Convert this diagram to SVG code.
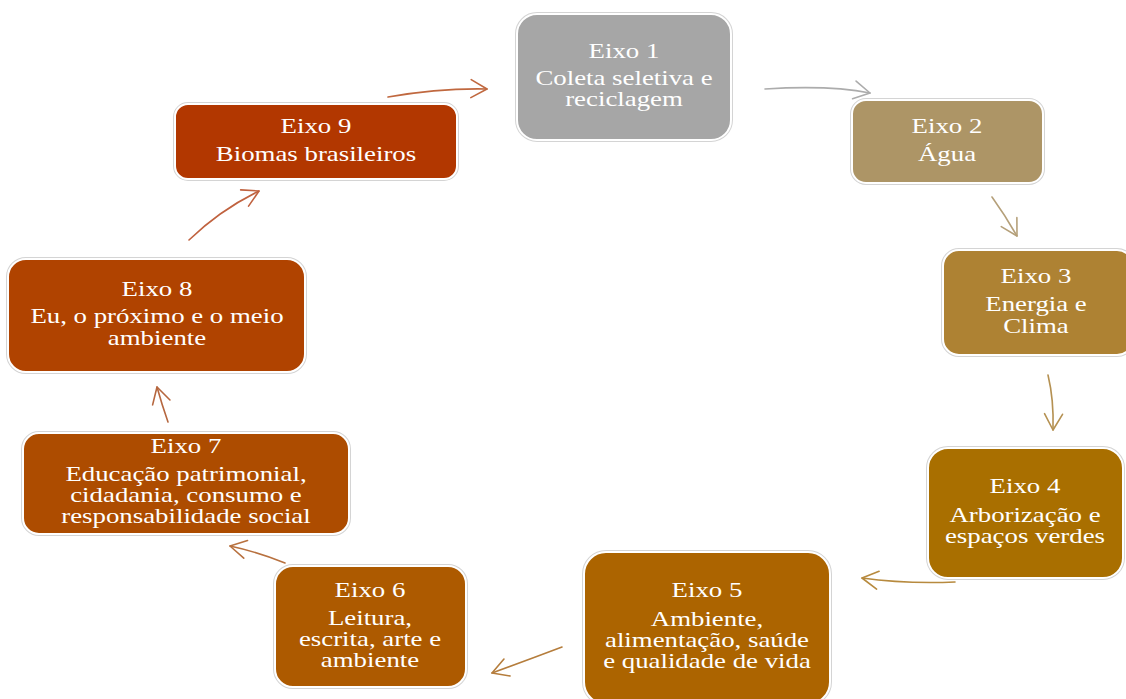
<svg xmlns="http://www.w3.org/2000/svg" width="1126" height="699" viewBox="0 0 1126 699">
<style>
.box{stroke:#ffffff;stroke-width:2}
.edge{fill:none;stroke:#d4d4d4;stroke-width:4}
.lbl{font-family:"Liberation Serif","Times New Roman",serif;font-size:22px;fill:#ffffff;text-anchor:middle}
.arr{fill:none;stroke-width:1.6;stroke-linecap:round}
</style>
<defs>
<marker id="m1" markerUnits="userSpaceOnUse" viewBox="-20 -12 22 24" refX="0" refY="0" markerWidth="22" markerHeight="24" orient="auto"><path d="M-16,-9 L0,0 L-16,9" fill="none" stroke="#c0683f" stroke-width="1.6" stroke-linecap="round" stroke-linejoin="round"/></marker>
<marker id="m2" markerUnits="userSpaceOnUse" viewBox="-20 -12 22 24" refX="0" refY="0" markerWidth="22" markerHeight="24" orient="auto"><path d="M-16,-9 L0,0 L-16,9" fill="none" stroke="#acacac" stroke-width="1.6" stroke-linecap="round" stroke-linejoin="round"/></marker>
<marker id="m3" markerUnits="userSpaceOnUse" viewBox="-20 -12 22 24" refX="0" refY="0" markerWidth="22" markerHeight="24" orient="auto"><path d="M-16,-9 L0,0 L-16,9" fill="none" stroke="#b5a07a" stroke-width="1.6" stroke-linecap="round" stroke-linejoin="round"/></marker>
<marker id="m4" markerUnits="userSpaceOnUse" viewBox="-20 -12 22 24" refX="0" refY="0" markerWidth="22" markerHeight="24" orient="auto"><path d="M-16,-9 L0,0 L-16,9" fill="none" stroke="#b59152" stroke-width="1.6" stroke-linecap="round" stroke-linejoin="round"/></marker>
<marker id="m5" markerUnits="userSpaceOnUse" viewBox="-20 -12 22 24" refX="0" refY="0" markerWidth="22" markerHeight="24" orient="auto"><path d="M-16,-9 L0,0 L-16,9" fill="none" stroke="#b78a3e" stroke-width="1.6" stroke-linecap="round" stroke-linejoin="round"/></marker>
<marker id="m6" markerUnits="userSpaceOnUse" viewBox="-20 -12 22 24" refX="0" refY="0" markerWidth="22" markerHeight="24" orient="auto"><path d="M-16,-9 L0,0 L-16,9" fill="none" stroke="#b57d3c" stroke-width="1.6" stroke-linecap="round" stroke-linejoin="round"/></marker>
<marker id="m7" markerUnits="userSpaceOnUse" viewBox="-20 -12 22 24" refX="0" refY="0" markerWidth="22" markerHeight="24" orient="auto"><path d="M-16,-9 L0,0 L-16,9" fill="none" stroke="#b8713f" stroke-width="1.6" stroke-linecap="round" stroke-linejoin="round"/></marker>
<marker id="m8" markerUnits="userSpaceOnUse" viewBox="-20 -12 22 24" refX="0" refY="0" markerWidth="22" markerHeight="24" orient="auto"><path d="M-16,-9 L0,0 L-16,9" fill="none" stroke="#b6673f" stroke-width="1.6" stroke-linecap="round" stroke-linejoin="round"/></marker>
<marker id="m9" markerUnits="userSpaceOnUse" viewBox="-20 -12 22 24" refX="0" refY="0" markerWidth="22" markerHeight="24" orient="auto"><path d="M-16,-9 L0,0 L-16,9" fill="none" stroke="#c0623f" stroke-width="1.6" stroke-linecap="round" stroke-linejoin="round"/></marker>
</defs>
<rect width="1126" height="699" fill="#ffffff"/>
<g id="connectors">
<path class="arr" d="M388,97 Q440,88 487,89" stroke="#c0683f" marker-end="url(#m1)"/>
<path class="arr" d="M765,89 Q830,85 870,93" stroke="#acacac" marker-end="url(#m2)"/>
<path class="arr" d="M992,197 Q1005,215 1017,236" stroke="#b5a07a" marker-end="url(#m3)"/>
<path class="arr" d="M1048,375 Q1054,400 1053,430" stroke="#b59152" marker-end="url(#m4)"/>
<path class="arr" d="M955,582 Q905,584 862,578" stroke="#b78a3e" marker-end="url(#m5)"/>
<path class="arr" d="M562,647 Q525,661 492,673" stroke="#b57d3c" marker-end="url(#m6)"/>
<path class="arr" d="M285,563 Q258,552 230,546" stroke="#b8713f" marker-end="url(#m7)"/>
<path class="arr" d="M168,422 Q162,405 157,387" stroke="#b6673f" marker-end="url(#m8)"/>
<path class="arr" d="M189,240 Q220,210 259,191" stroke="#c0623f" marker-end="url(#m9)"/>
</g>
<g id="eixo1">
<rect class="edge" x="517" y="14" width="214" height="126" rx="20"/>
<rect class="box" x="517" y="14" width="214" height="126" rx="20" fill="#a6a6a6"/>
<text class="lbl" transform="translate(624 0) scale(1.22 1)"><tspan x="0" y="58">Eixo 1</tspan><tspan x="0" y="85">Coleta seletiva e</tspan><tspan x="0" y="106">reciclagem</tspan></text>
</g>
<g id="eixo2">
<rect class="edge" x="852" y="100" width="191" height="83" rx="14"/>
<rect class="box" x="852" y="100" width="191" height="83" rx="14" fill="#ad9566"/>
<text class="lbl" transform="translate(947 0) scale(1.22 1)"><tspan x="0" y="133">Eixo 2</tspan><tspan x="0" y="161">Água</tspan></text>
</g>
<g id="eixo3">
<rect class="edge" x="943" y="250" width="190" height="105" rx="16"/>
<rect class="box" x="943" y="250" width="190" height="105" rx="16" fill="#ae8233"/>
<text class="lbl" transform="translate(1036 0) scale(1.22 1)"><tspan x="0" y="283">Eixo 3</tspan><tspan x="0" y="311">Energia e</tspan><tspan x="0" y="333">Clima</tspan></text>
</g>
<g id="eixo4">
<rect class="edge" x="928" y="448" width="195" height="130" rx="20"/>
<rect class="box" x="928" y="448" width="195" height="130" rx="20" fill="#a96f00"/>
<text class="lbl" transform="translate(1025 0) scale(1.22 1)"><tspan x="0" y="493">Eixo 4</tspan><tspan x="0" y="522">Arborização e</tspan><tspan x="0" y="543">espaços verdes</tspan></text>
</g>
<g id="eixo5">
<rect class="edge" x="584" y="552" width="246" height="152" rx="22"/>
<rect class="box" x="584" y="552" width="246" height="152" rx="22" fill="#ac6400"/>
<text class="lbl" transform="translate(707 0) scale(1.22 1)"><tspan x="0" y="597">Eixo 5</tspan><tspan x="0" y="626">Ambiente,</tspan><tspan x="0" y="647">alimentação, saúde</tspan><tspan x="0" y="668">e qualidade de vida</tspan></text>
</g>
<g id="eixo6">
<rect class="edge" x="275" y="566" width="191" height="121" rx="18"/>
<rect class="box" x="275" y="566" width="191" height="121" rx="18" fill="#ad5a00"/>
<text class="lbl" transform="translate(370 0) scale(1.22 1)"><tspan x="0" y="597">Eixo 6</tspan><tspan x="0" y="625">Leitura,</tspan><tspan x="0" y="646">escrita, arte e</tspan><tspan x="0" y="667">ambiente</tspan></text>
</g>
<g id="eixo7">
<rect class="edge" x="23" y="433" width="326" height="101" rx="16"/>
<rect class="box" x="23" y="433" width="326" height="101" rx="16" fill="#ad4c00"/>
<text class="lbl" transform="translate(186 0) scale(1.22 1)"><tspan x="0" y="453">Eixo 7</tspan><tspan x="0" y="481">Educação patrimonial,</tspan><tspan x="0" y="502">cidadania, consumo e</tspan><tspan x="0" y="523">responsabilidade social</tspan></text>
</g>
<g id="eixo8">
<rect class="edge" x="8" y="259" width="297" height="113" rx="18"/>
<rect class="box" x="8" y="259" width="297" height="113" rx="18" fill="#b04300"/>
<text class="lbl" transform="translate(157 0) scale(1.22 1)"><tspan x="0" y="296">Eixo 8</tspan><tspan x="0" y="323">Eu, o próximo e o meio</tspan><tspan x="0" y="345">ambiente</tspan></text>
</g>
<g id="eixo9">
<rect class="edge" x="175" y="104" width="282" height="75" rx="13"/>
<rect class="box" x="175" y="104" width="282" height="75" rx="13" fill="#b23700"/>
<text class="lbl" transform="translate(316 0) scale(1.22 1)"><tspan x="0" y="133">Eixo 9</tspan><tspan x="0" y="161">Biomas brasileiros</tspan></text>
</g>
</svg>
